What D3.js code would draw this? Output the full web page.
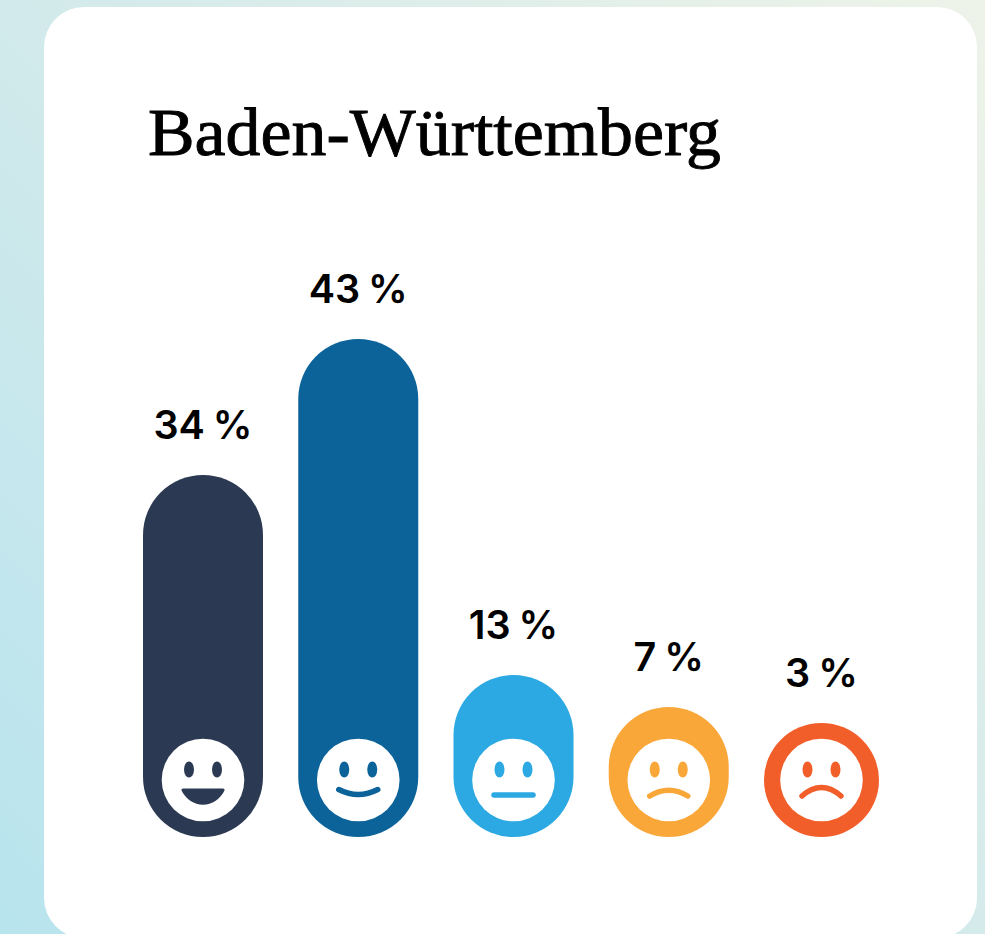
<!DOCTYPE html>
<html><head><meta charset="utf-8">
<style>html,body{margin:0;padding:0;background:#fff;overflow:hidden}svg{display:block}</style>
<script src="https://cdn.jsdelivr.net/npm/d3@7/dist/d3.min.js"></script>
</head><body><svg id="c" width="985" height="934"></svg>
<script>
const title = "Baden-Württemberg";
const categories = ["sehr zufrieden","zufrieden","neutral","unzufrieden","sehr unzufrieden"];
const values = [34,43,13,7,3];
const labels = ["34 %","43 %","13 %","7 %","3 %"];
const colors = ["#2b3a52","#0c6399","#2ca9e2","#faa73a","#f25e2a"];
const moods = ["grin","smile","flat","frown","frown2"];
const heightKnots = [3,7,13,34,43];
const heightPixels = [114,130,162,362,498];

const svg = d3.select("#c");
const defs = svg.append("defs");
const g = defs.append("linearGradient").attr("id","bg").attr("gradientUnits","userSpaceOnUse")
  .attr("x1",0).attr("y1",934).attr("x2",985).attr("y2",0);
g.append("stop").attr("offset",0).attr("stop-color","#b8e4ee");
g.append("stop").attr("offset",0.5).attr("stop-color","#d3eaeb");
g.append("stop").attr("offset",1).attr("stop-color","#eef3e8");
svg.append("rect").attr("width",985).attr("height",934).attr("fill","url(#bg)");
svg.append("rect").attr("x",44).attr("y",7).attr("width",933).attr("height",931).attr("rx",40).attr("fill","#fff");

svg.append("text").text(title).attr("x",148).attr("y",155)
  .attr("textLength",573).attr("lengthAdjust","spacingAndGlyphs")
  .attr("font-family","Liberation Serif").attr("font-size",68).attr("fill","#000")
  .attr("stroke","#000").attr("stroke-width",0.9);

const baseY = 837;
const x = d3.scaleBand().domain(categories).range([143,884]).paddingInner(0.227).paddingOuter(0);
const h = d3.scaleLinear().domain(heightKnots).range(heightPixels);
const data = categories.map((c,i)=>({c,v:values[i],l:labels[i],col:colors[i],m:moods[i]}));

const item = svg.selectAll("g.bar").data(data).join("g").attr("class","bar");
const wid = d => Math.min(x.bandwidth(), h(d.v)+1);
const cx = d => x(d.c)+wid(d)/2;
item.append("rect")
  .attr("x",d=>x(d.c)).attr("y",d=>baseY-h(d.v))
  .attr("width",wid).attr("height",d=>h(d.v))
  .attr("rx",d=>wid(d)/2).attr("fill",d=>d.col);
item.append("text").text(d=>d.l)
  .attr("x",cx).attr("y",d=>baseY-h(d.v)-36).attr("text-anchor","middle")
  .attr("font-family","Inter").attr("font-weight",600).attr("font-size",39.5)
  .attr("word-spacing",-2).attr("fill","#000");

const face = item.append("g").attr("transform",d=>`translate(${cx(d)},${baseY-57})`);
face.append("circle").attr("r",41.3).attr("fill","#fff");
[-14,14].forEach(dx=>face.append("ellipse").attr("cx",dx).attr("cy",-10.5).attr("rx",5).attr("ry",8).attr("fill",d=>d.col));
const mouths = {
  grin:"M-19.5 8.4H19.5Q22.5 8.4 21.2 11C17 19 9 24.8 0 24.8C-9 24.8 -17 19 -21.2 11Q-22.5 8.4 -19.5 8.4Z",
  smile:"M-19.5 9.5Q0 19.5 19.5 9.5",
  flat:"M-19.5 15H19.5",
  frown:"M-19 16Q0 4.5 19 16",
  frown2:"M-19.5 16Q-10 7.5 0 7.5Q10 7.5 19.5 16"
};
face.append("path").attr("d",d=>mouths[d.m])
  .attr("fill",d=>d.m==="grin"?d.col:"none")
  .attr("stroke",d=>d.m==="grin"?"none":d.col)
  .attr("stroke-width",5.5).attr("stroke-linecap","round");
</script></body></html>
